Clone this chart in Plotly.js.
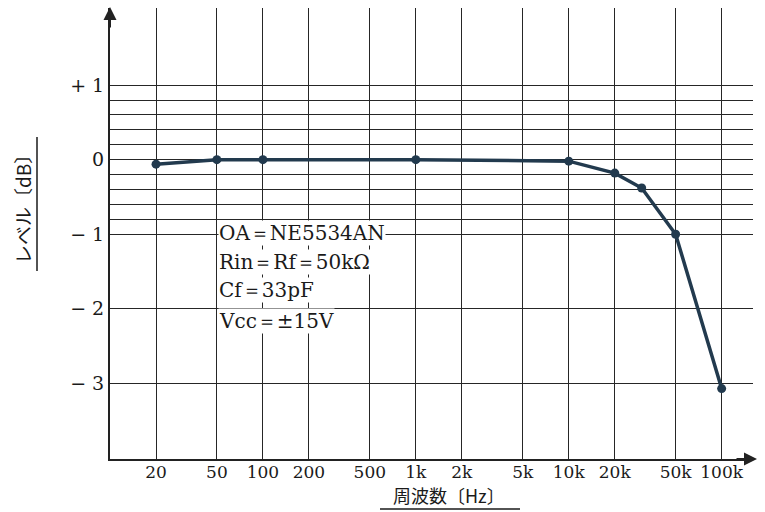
<!DOCTYPE html>
<html>
<head>
<meta charset="utf-8">
<script src="https://cdn.plot.ly/plotly-3.0.1.min.js"></script>
<style>html,body{margin:0;padding:0;background:#fff;}</style>
</head>
<body>
<div id="chart" style="width:765px;height:512px;"></div>
<script>
// Data
const freqHz = [20, 50, 100, 1000, 10000, 20000, 30000, 50000, 100000];
const levelDb = [-0.06, 0, 0, 0, -0.02, -0.18, -0.38, -1.0, -3.07];

const xTickVals = [20, 50, 100, 200, 500, 1000, 2000, 5000, 10000, 20000, 50000, 100000];
const xTickText = ['20', '50', '100', '200', '500', '1k', '2k', '5k', '10k', '20k', '50k', '100k'];

const yTickVals = [-3, -2, -1, -0.8, -0.6, -0.4, -0.2, 0, 0.2, 0.4, 0.6, 0.8, 1];
const yTickText = ['\u2212 3', '\u2212 2', '\u2212 1', '', '', '', '', '0', '', '', '', '', '+ 1'];

const noteLines = ['OA\uFF1DNE5534AN', 'Rin\uFF1DRf\uFF1D50k\u03A9', 'Cf\uFF1D33pF', 'Vcc\uFF1D\u00B115V'];
const xTitle = '周波数〔Hz〕';
const yTitle = 'レベル〔dB〕';

const W = 765, H = 512;
const L = 110, R = 12, T = 8, B = 53;
const pw = W - L - R, ph = H - T - B;
const px = x => (x - L) / pw;
const py = y => (H - B - y) / ph;

const serif = 'DejaVu Serif, Liberation Serif, serif';
const ink = '#1a1a1a';

const trace = {
  x: freqHz,
  y: levelDb,
  type: 'scatter',
  mode: 'lines+markers',
  line: {color: '#223a4e', width: 3.5},
  marker: {color: '#223a4e', size: 9},
  cliponaxis: false
};

const noteY = [233, 262, 290, 321];
const annotations = noteLines.map((t, i) => ({
  xref: 'paper', yref: 'paper',
  x: px(218), y: py(noteY[i]),
  xanchor: 'left', yanchor: 'middle',
  text: t, showarrow: false,
  bgcolor: '#ffffff', borderpad: 0,
  font: {family: serif, size: 20, color: ink}
}));

// axis arrows
annotations.push({
  xref: 'paper', yref: 'paper', x: 0, y: py(7), ax: 0, ay: 22,
  text: '', showarrow: true, arrowhead: 2, arrowsize: 1.3, arrowwidth: 2, arrowcolor: '#222'
});
annotations.push({
  xref: 'paper', yref: 'paper', x: px(757), y: 0, ax: -22, ay: 0,
  text: '', showarrow: true, arrowhead: 2, arrowsize: 1.3, arrowwidth: 2, arrowcolor: '#222'
});
// axis titles
annotations.push({
  xref: 'paper', yref: 'paper', x: px(449), y: py(495),
  xanchor: 'center', yanchor: 'middle', showarrow: false,
  text: xTitle, font: {family: 'Noto Sans CJK JP', size: 18, color: ink}
});
annotations.push({
  xref: 'paper', yref: 'paper', x: px(23), y: py(205),
  xanchor: 'center', yanchor: 'middle', showarrow: false, textangle: -90,
  text: yTitle, font: {family: 'Noto Sans CJK JP', size: 19, color: ink}
});

const shapes = [
  {type: 'line', xref: 'paper', yref: 'paper', x0: px(380), x1: px(520), y0: py(509), y1: py(509), line: {color: ink, width: 1.5}},
  {type: 'line', xref: 'paper', yref: 'paper', x0: px(37), x1: px(37), y0: py(137), y1: py(271), line: {color: ink, width: 1.5}}
];

const layout = {
  width: W, height: H,
  margin: {l: L, r: R, t: T, b: B},
  paper_bgcolor: '#ffffff', plot_bgcolor: '#ffffff',
  showlegend: false,
  xaxis: {
    type: 'log',
    range: [1.0, 5.205],
    tickmode: 'array', tickvals: xTickVals, ticktext: xTickText,
    showgrid: true, gridcolor: '#262626', gridwidth: 1,
    showline: true, linecolor: '#222', linewidth: 2,
    zeroline: false, ticks: '', ticklabelstandoff: -3,
    tickfont: {family: serif, size: 17, color: ink}
  },
  yaxis: {
    range: [-4.014, 2.034],
    tickmode: 'array', tickvals: yTickVals, ticktext: yTickText,
    showgrid: true, gridcolor: '#262626', gridwidth: 1,
    showline: true, linecolor: '#222', linewidth: 2,
    zeroline: false, ticks: '',
    tickfont: {family: serif, size: 19, color: ink}
  },
  annotations: annotations,
  shapes: shapes
};

Plotly.newPlot('chart', [trace], layout, {staticPlot: true, displayModeBar: false});
</script>
</body>
</html>
